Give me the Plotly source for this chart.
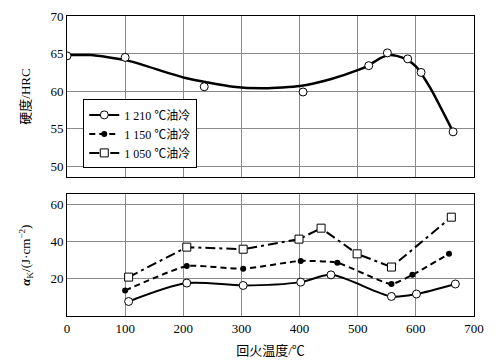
import plotly.graph_objects as go
from plotly.subplots import make_subplots

# Hardness (1 210 ℃ oil quench) measured points
hard_x = [0, 100, 236, 406, 519, 551, 586, 609, 664]
hard_y = [64.7, 64.5, 60.6, 59.9, 63.4, 65.1, 64.3, 62.5, 54.6]
# Smooth fitted hardness curve
curve_x = [0, 40, 103, 202, 286, 340, 401, 453, 500, 519, 539, 553, 567, 584, 600, 625, 664]
curve_y = [64.8, 64.8, 64.1, 61.8, 60.6, 60.4, 60.7, 61.6, 62.8, 63.45, 64.4, 64.8, 64.7, 64.2, 63.3, 60.4, 54.6]

# Impact toughness
t1210_x = [106, 206, 303, 402, 454, 558, 601, 668]
t1210_y = [7.8, 17.7, 16.4, 18.2, 22.1, 10.5, 11.8, 17.2]
t1150_x = [100, 206, 303, 402, 465, 558, 594, 657]
t1150_y = [13.7, 26.8, 25.4, 29.6, 28.6, 17.2, 22.1, 33.4]
t1050_x = [106, 206, 303, 399, 437, 499, 558, 661]
t1050_y = [20.9, 37.0, 35.9, 41.3, 47.2, 33.4, 26.3, 53.1]

labels = ["1 210 ℃油冷", "1 150 ℃油冷", "1 050 ℃油冷"]

FONT = "Liberation Serif, 'Times New Roman', 'Noto Sans CJK SC', serif"

fig = make_subplots(rows=2, cols=1, shared_xaxes=False, vertical_spacing=0.05)

fig.add_trace(go.Scatter(x=curve_x, y=curve_y, mode="lines", line=dict(color="black", width=2.5, shape="spline", smoothing=0.6),
                         showlegend=False, hoverinfo="skip"), row=1, col=1)
fig.add_trace(go.Scatter(x=hard_x, y=hard_y, mode="markers",
                         marker=dict(symbol="circle", size=8, color="white", line=dict(color="black", width=1)),
                         showlegend=False), row=1, col=1)

fig.add_trace(go.Scatter(x=t1210_x, y=t1210_y, mode="lines+markers", name=labels[0],
                         line=dict(color="black", width=2, shape="spline", smoothing=0.8),
                         marker=dict(symbol="circle", size=8, color="white", line=dict(color="black", width=1))),
              row=2, col=1)
fig.add_trace(go.Scatter(x=t1150_x, y=t1150_y, mode="lines+markers", name=labels[1],
                         line=dict(color="black", width=2, dash="6px,4px", shape="spline", smoothing=0.5),
                         marker=dict(symbol="circle", size=6, color="black")),
              row=2, col=1)
fig.add_trace(go.Scatter(x=t1050_x, y=t1050_y, mode="lines+markers", name=labels[2],
                         line=dict(color="black", width=2, dash="10px,4px,3px,4px"),
                         marker=dict(symbol="square", size=8, color="white", line=dict(color="black", width=1))),
              row=2, col=1)

axis_common = dict(showline=True, linecolor="black", linewidth=1, mirror=True,
                   showgrid=True, gridcolor="#8a8a8a", gridwidth=1, zeroline=False,
                   ticks="", automargin=False,
                   tickfont=dict(family=FONT, size=13, color="black"))

fig.update_xaxes(range=[0, 700], tickvals=[0, 100, 200, 300, 400, 500, 600, 700], **axis_common)
fig.update_xaxes(showticklabels=False, row=1, col=1)
fig.update_xaxes(title=dict(text="回火温度/℃", font=dict(family=FONT, size=13, color="black"), standoff=11), row=2, col=1)

fig.update_yaxes(**axis_common)
fig.update_yaxes(range=[48.6, 70], tickvals=[50, 55, 60, 65, 70], domain=[0.4633, 1.0],
                 title=dict(text="硬度/HRC", font=dict(family=FONT, size=13, color="black"), standoff=16), row=1, col=1)
fig.update_yaxes(range=[0, 65.4], tickvals=[20, 40, 60], domain=[0.0, 0.4057],
                 title=dict(text="<b><i>α</i></b><sub>K</sub>/(J·cm<sup>−2</sup>)", font=dict(family=FONT, size=13, color="black"), standoff=16),
                 row=2, col=1)

fig.update_layout(
    width=497, height=363,
    margin=dict(l=67, r=23, t=16, b=47),
    paper_bgcolor="white", plot_bgcolor="white",
    font=dict(family=FONT, size=13, color="black"),
    legend=dict(x=0.04, y=0.722, xanchor="left", yanchor="top",
                bgcolor="white", bordercolor="black", borderwidth=1,
                font=dict(family=FONT, size=12, color="black"),
                tracegroupgap=0, itemwidth=30),
)

fig.write_html("out.html", config={"displayModeBar": False})

# remove the browser's default page margin so the figure sits at the window origin
with open("out.html", "r", encoding="utf-8") as f:
    html = f.read()
html = html.replace("<head>", "<head><style>html,body{margin:0;padding:0;overflow:hidden;}</style>", 1)
with open("out.html", "w", encoding="utf-8") as f:
    f.write(html)
